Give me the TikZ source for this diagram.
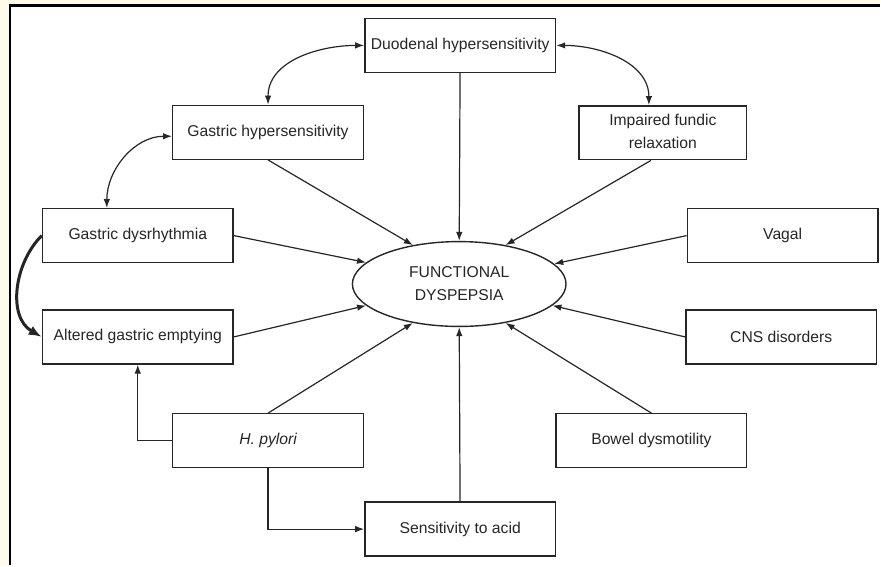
\documentclass[tikz,border=0pt]{standalone}
\usepackage{fontspec}
\setmainfont{Liberation Sans}
\usetikzlibrary{arrows.meta,shapes.geometric}
\definecolor{cream}{HTML}{FFFBEA}
\definecolor{ink}{HTML}{262626}
\begin{document}
\begin{tikzpicture}[x=1pt,y=-1pt,
    box/.style={draw=ink,line width=1.4pt,minimum width=191pt,minimum height=54pt,
        inner sep=0pt,text=ink,font=\fontsize{15.7}{23}\selectfont},
    link/.style={->,draw=ink,line width=1.2pt},
    >={Latex[length=9pt,width=6.5pt]}]

    \fill[cream] (0,0) rectangle (881,566);
    \fill[white] (9.7,6) rectangle (881,566);
    \draw[line width=3pt] (8.7,6) -- (881,6);
    \draw[line width=2pt] (9.7,6) -- (9.7,566);
    \useasboundingbox (0,0) rectangle (881,566);

    \node[box,ellipse,minimum width=214pt,minimum height=85pt] (FD) at (460,284.5) {
        \begin{tabular}{c}
            FUNCTIONAL \\
            DYSPEPSIA \\
        \end{tabular}
    };

    \node[box] (duodenal) at (461,45.5) {Duodenal hypersensitivity};
    \node[box] (gastric hyper) at (268.5,132.5) {Gastric hypersensitivity};
    \node[box,minimum width=168pt] (fundic) at (664,133) {
        \begin{tabular}{c}
            Impaired fundic \\
            relaxation \\
        \end{tabular}
    };
    \node[box] (dysrhythmia) at (138,236) {Gastric dysrhythmia};
    \node[box] (emptying) at (138,337.5) {Altered gastric emptying};
    \node[box] (vagal) at (784,236) {Vagal};
    \node[box] (CNS) at (782.5,337.5) {CNS disorders};
    \node[box] (pylori) at (268.5,441.5) {\itshape H. pylori};
    \node[box] (bowel) at (652.5,441.5) {Bowel dysmotility};
    \node[box] (acid) at (461,530) {Sensitivity to acid};

    \draw[link] (duodenal) to (FD.north);
    \draw[link] (gastric hyper.south) to (FD.140);
    \draw[link] ([xshift=-12pt]fundic.south) to (FD.40);
    \draw[link] (dysrhythmia.east) to (FD.167);
    \draw[link] (emptying.east) to (FD.193);
    \draw[link] (vagal.west) to (FD.12);
    \draw[link] (CNS.west) to (FD.347);
    \draw[link] (pylori.north) to (FD.220);
    \draw[link] (bowel.north) to (FD.320);
    \draw[link] (acid) to (FD.south);

    \draw[link,<->] (gastric hyper.north) to[out=90,in=180] (duodenal.west);
    \draw[link,<->] (duodenal.east) to[out=0,in=90] ([xshift=-14pt]fundic.north);
    \draw[link,<->] ([yshift=-4pt]gastric hyper.west) to[out=180,in=90] ([xshift=-31pt]dysrhythmia.north);
    \draw[->,draw=ink,line width=3pt,>={Latex[length=13pt,width=10pt]}]
        (dysrhythmia.west) to[out=225,in=150] (emptying.west);

    \draw[link] (pylori.west) -| (emptying.south);
    \draw[link] (pylori.south) |- (acid.west);

\end{tikzpicture}
\end{document}
